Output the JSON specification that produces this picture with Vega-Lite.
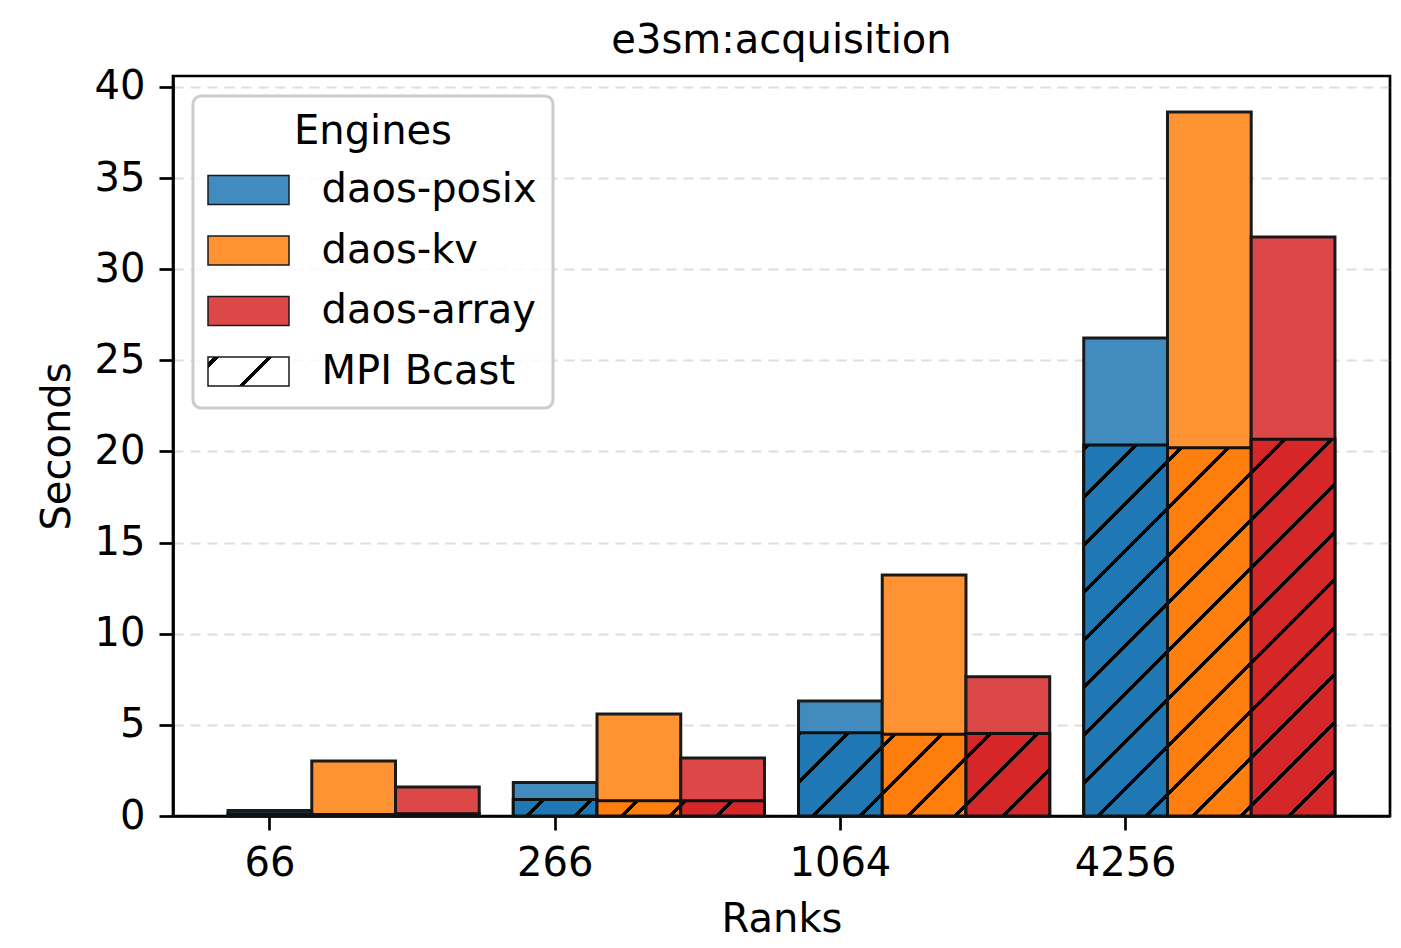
{
  "$schema": "https://vega.github.io/schema/vega-lite/v6.json",
  "width": 1217,
  "height": 740,
  "autosize": {"type": "none"},
  "padding": {"left": 173, "top": 76, "right": 11, "bottom": 132},
  "background": "white",
  "title": {"text": "e3sm:acquisition", "font": "DejaVu Sans", "fontSize": 40, "fontWeight": "normal", "color": "black", "frame": "group", "anchor": "middle", "offset": 6},
  "config": {
    "view": {"stroke": "black", "strokeWidth": 2.7},
    "legend": {"strokeWidth": 3},
    "axis": {"labelFont": "DejaVu Sans", "labelFontSize": 40, "labelColor": "black", "titleFont": "DejaVu Sans", "titleFontSize": 40, "titleFontWeight": "normal", "titleColor": "black", "tickColor": "black", "tickWidth": 2.7, "tickSize": 14, "domainColor": "black", "domainWidth": 2.7, "zindex": 1}
  },
  "data": {"values": [
    {"rank": 66, "engine": "daos-posix", "total": 0.30, "mpi": 0.12},
    {"rank": 66, "engine": "daos-kv", "total": 3.02, "mpi": 0.08},
    {"rank": 66, "engine": "daos-array", "total": 1.59, "mpi": 0.12},
    {"rank": 266, "engine": "daos-posix", "total": 1.84, "mpi": 0.90},
    {"rank": 266, "engine": "daos-kv", "total": 5.60, "mpi": 0.84},
    {"rank": 266, "engine": "daos-array", "total": 3.18, "mpi": 0.84},
    {"rank": 1064, "engine": "daos-posix", "total": 6.31, "mpi": 4.57},
    {"rank": 1064, "engine": "daos-kv", "total": 13.22, "mpi": 4.48},
    {"rank": 1064, "engine": "daos-array", "total": 7.64, "mpi": 4.52},
    {"rank": 4256, "engine": "daos-posix", "total": 26.22, "mpi": 20.35},
    {"rank": 4256, "engine": "daos-kv", "total": 38.62, "mpi": 20.21},
    {"rank": 4256, "engine": "daos-array", "total": 31.77, "mpi": 20.67}
  ]},
  "encoding": {
    "x": {"field": "rank", "type": "ordinal", "title": "Ranks",
      "scale": {"domain": [66, 266, 1064, 4256], "paddingInner": 0.1193, "paddingOuter": 0.193},
      "axis": {"labelAngle": 0, "bandPosition": 0.16667, "labelOffset": -83.7, "grid": false, "labelPadding": 13, "titlePadding": 16}},
    "xOffset": {"field": "engine", "type": "nominal",
      "scale": {"domain": ["daos-posix", "daos-kv", "daos-array"], "paddingInner": 0, "paddingOuter": 0}}
  },
  "layer": [
    {
      "mark": {"type": "bar", "stroke": "#1a1a1a", "strokeWidth": 3},
      "encoding": {
        "y": {"field": "total", "type": "quantitative", "title": "Seconds",
          "scale": {"domain": [0, 40.6], "nice": false, "zero": true},
          "axis": {"values": [0, 5, 10, 15, 20, 25, 30, 35, 40], "grid": true, "gridDash": [10, 7], "gridColor": "#808080", "gridOpacity": 0.27, "gridWidth": 2, "labelPadding": 14, "titlePadding": 17}},
        "color": {"field": "engine", "type": "nominal",
          "scale": {"domain": ["daos-posix", "daos-kv", "daos-array", "MPI Bcast"], "range": ["#418bbf", "#ff9232", "#dc4748",
            {"expr": "({gradient: 'linear', x1: 0, y1: 0, x2: 1.20373, y2: 0.43097, stops: [{offset: 0, color: '#ffffff'}, {offset: 0.05, color: '#ffffff'}, {offset: 0.05, color: '#000000'}, {offset: 0.1, color: '#000000'}, {offset: 0.1, color: '#ffffff'}, {offset: 0.54, color: '#ffffff'}, {offset: 0.54, color: '#000000'}, {offset: 0.59, color: '#000000'}, {offset: 0.59, color: '#ffffff'}, {offset: 1, color: '#ffffff'}]})"}]},
          "legend": {
            "title": "Engines", "orient": "none", "legendX": 20, "legendY": 20, "direction": "vertical", "zindex": 2,
            "symbolType": "M-2.793,-1H2.793V1H-2.793Z", "symbolSize": 841,
            "symbolOffset": 19.5, "labelOffset": 53, "rowPadding": 20.5,
            "labelFont": "DejaVu Sans", "labelFontSize": 40, "labelColor": "black", "labelLimit": 600,
            "titleFont": "DejaVu Sans", "titleFontSize": 40, "titleFontWeight": "normal", "titleColor": "black", "titleAnchor": "middle", "titlePadding": 18, "titleLimit": 600,
            "padding": 16, "fillColor": "rgba(255,255,255,0.8)", "strokeColor": "#cccccc", "cornerRadius": 8,
            "encode": {
              "legend": {"update": {"strokeWidth": {"value": 3}}},
              "symbols": {"update": {"stroke": {"value": "#111111"}, "strokeWidth": {"value": 3}, "opacity": {"value": 1}}}
            }
          }}
      }
    },
    {
      "mark": {"type": "bar", "stroke": "#111111", "strokeWidth": 3},
      "encoding": {
        "y": {"field": "mpi", "type": "quantitative", "title": "Seconds"},
        "fill": {"field": "engine", "type": "nominal", "legend": null,
          "scale": {"domain": ["daos-posix", "daos-kv", "daos-array"], "range": ["#1f77b4", "#ff7f0e", "#d62728"]},
          "condition": [
            {"test": "datum.rank === 266 && datum.engine === 'daos-posix'", "value": {"gradient": "linear", "x1": 0, "y1": 0, "x2": 1.1517, "y2": 0.22557, "stops": [
              {"offset": 0, "color": "#1f77b4"}, {"offset": 0.2758, "color": "#1f77b4"}, {"offset": 0.2758, "color": "#000000"}, {"offset": 0.3258, "color": "#000000"}, {"offset": 0.3258, "color": "#1f77b4"},
              {"offset": 0.7512, "color": "#1f77b4"}, {"offset": 0.7512, "color": "#000000"}, {"offset": 0.8012, "color": "#000000"}, {"offset": 0.8012, "color": "#1f77b4"}, {"offset": 1, "color": "#1f77b4"}]}},
            {"test": "datum.rank === 266 && datum.engine === 'daos-kv'", "value": {"gradient": "linear", "x1": 0, "y1": 0, "x2": 1.1446, "y2": 0.20928, "stops": [
              {"offset": 0, "color": "#ff7f0e"}, {"offset": 0.3837, "color": "#ff7f0e"}, {"offset": 0.3837, "color": "#000000"}, {"offset": 0.4342, "color": "#000000"}, {"offset": 0.4342, "color": "#ff7f0e"},
              {"offset": 0.8643, "color": "#ff7f0e"}, {"offset": 0.8643, "color": "#000000"}, {"offset": 0.9148, "color": "#000000"}, {"offset": 0.9148, "color": "#ff7f0e"}, {"offset": 1, "color": "#ff7f0e"}]}},
            {"test": "datum.rank === 266 && datum.engine === 'daos-array'", "value": {"gradient": "linear", "x1": 0, "y1": 0, "x2": 1.1446, "y2": 0.20928, "stops": [
              {"offset": 0, "color": "#d62728"}, {"offset": 0.01888, "color": "#d62728"}, {"offset": 0.01888, "color": "#000000"}, {"offset": 0.06937, "color": "#000000"}, {"offset": 0.06937, "color": "#d62728"},
              {"offset": 0.4995, "color": "#d62728"}, {"offset": 0.4995, "color": "#000000"}, {"offset": 0.55, "color": "#000000"}, {"offset": 0.55, "color": "#d62728"},
              {"offset": 0.9801, "color": "#d62728"}, {"offset": 0.9801, "color": "#000000"}, {"offset": 1, "color": "#000000"}]}},
            {"test": "datum.rank === 1064 && datum.engine === 'daos-posix'", "value": {"gradient": "linear", "x1": 0, "y1": 0, "x2": 1.00257, "y2": 0.99742, "stops": [
              {"offset": 0, "color": "#000000"}, {"offset": 0.02808, "color": "#000000"}, {"offset": 0.02808, "color": "#1f77b4"},
              {"offset": 0.28312, "color": "#1f77b4"}, {"offset": 0.28312, "color": "#000000"}, {"offset": 0.31306, "color": "#000000"}, {"offset": 0.31306, "color": "#1f77b4"},
              {"offset": 0.5681, "color": "#1f77b4"}, {"offset": 0.5681, "color": "#000000"}, {"offset": 0.59804, "color": "#000000"}, {"offset": 0.59804, "color": "#1f77b4"},
              {"offset": 0.85308, "color": "#1f77b4"}, {"offset": 0.85308, "color": "#000000"}, {"offset": 0.88302, "color": "#000000"}, {"offset": 0.88302, "color": "#1f77b4"}, {"offset": 1, "color": "#1f77b4"}]}},
            {"test": "datum.rank === 1064 && datum.engine === 'daos-kv'", "value": {"gradient": "linear", "x1": 0, "y1": 0, "x2": 1.01236, "y2": 0.98732, "stops": [
              {"offset": 0, "color": "#ff7f0e"}, {"offset": 0.05756, "color": "#ff7f0e"}, {"offset": 0.05756, "color": "#000000"}, {"offset": 0.08779, "color": "#000000"}, {"offset": 0.08779, "color": "#ff7f0e"},
              {"offset": 0.34536, "color": "#ff7f0e"}, {"offset": 0.34536, "color": "#000000"}, {"offset": 0.3756, "color": "#000000"}, {"offset": 0.3756, "color": "#ff7f0e"},
              {"offset": 0.63317, "color": "#ff7f0e"}, {"offset": 0.63317, "color": "#000000"}, {"offset": 0.6634, "color": "#000000"}, {"offset": 0.6634, "color": "#ff7f0e"},
              {"offset": 0.92097, "color": "#ff7f0e"}, {"offset": 0.92097, "color": "#000000"}, {"offset": 0.95121, "color": "#000000"}, {"offset": 0.95121, "color": "#ff7f0e"}, {"offset": 1, "color": "#ff7f0e"}]}},
            {"test": "datum.rank === 1064 && datum.engine === 'daos-array'", "value": {"gradient": "linear", "x1": 0, "y1": 0, "x2": 1.008, "y2": 0.99187, "stops": [
              {"offset": 0, "color": "#d62728"}, {"offset": 0.13075, "color": "#d62728"}, {"offset": 0.13075, "color": "#000000"}, {"offset": 0.16085, "color": "#000000"}, {"offset": 0.16085, "color": "#d62728"},
              {"offset": 0.41729, "color": "#d62728"}, {"offset": 0.41729, "color": "#000000"}, {"offset": 0.44739, "color": "#000000"}, {"offset": 0.44739, "color": "#d62728"},
              {"offset": 0.70383, "color": "#d62728"}, {"offset": 0.70383, "color": "#000000"}, {"offset": 0.73393, "color": "#000000"}, {"offset": 0.73393, "color": "#d62728"},
              {"offset": 0.99037, "color": "#d62728"}, {"offset": 0.99037, "color": "#000000"}, {"offset": 1, "color": "#000000"}]}},
            {"test": "datum.rank === 4256 && datum.engine === 'daos-posix'", "value": {"gradient": "linear", "x1": 0, "y1": 0, "x2": 0.26328, "y2": 1.1663, "stops": [
              {"offset": 0, "color": "#1f77b4"}, {"offset": 0.00457, "color": "#1f77b4"}, {"offset": 0.00457, "color": "#000000"}, {"offset": 0.01557, "color": "#000000"}, {"offset": 0.01557, "color": "#1f77b4"},
              {"offset": 0.10927, "color": "#1f77b4"}, {"offset": 0.10927, "color": "#000000"}, {"offset": 0.12027, "color": "#000000"}, {"offset": 0.12027, "color": "#1f77b4"},
              {"offset": 0.21397, "color": "#1f77b4"}, {"offset": 0.21397, "color": "#000000"}, {"offset": 0.22496, "color": "#000000"}, {"offset": 0.22496, "color": "#1f77b4"},
              {"offset": 0.31866, "color": "#1f77b4"}, {"offset": 0.31866, "color": "#000000"}, {"offset": 0.32966, "color": "#000000"}, {"offset": 0.32966, "color": "#1f77b4"},
              {"offset": 0.42336, "color": "#1f77b4"}, {"offset": 0.42336, "color": "#000000"}, {"offset": 0.43435, "color": "#000000"}, {"offset": 0.43435, "color": "#1f77b4"},
              {"offset": 0.52805, "color": "#1f77b4"}, {"offset": 0.52805, "color": "#000000"}, {"offset": 0.53905, "color": "#000000"}, {"offset": 0.53905, "color": "#1f77b4"},
              {"offset": 0.63275, "color": "#1f77b4"}, {"offset": 0.63275, "color": "#000000"}, {"offset": 0.64375, "color": "#000000"}, {"offset": 0.64375, "color": "#1f77b4"},
              {"offset": 0.73744, "color": "#1f77b4"}, {"offset": 0.73744, "color": "#000000"}, {"offset": 0.74844, "color": "#000000"}, {"offset": 0.74844, "color": "#1f77b4"},
              {"offset": 0.84214, "color": "#1f77b4"}, {"offset": 0.84214, "color": "#000000"}, {"offset": 0.85314, "color": "#000000"}, {"offset": 0.85314, "color": "#1f77b4"},
              {"offset": 0.94684, "color": "#1f77b4"}, {"offset": 0.94684, "color": "#000000"}, {"offset": 0.95784, "color": "#000000"}, {"offset": 0.95784, "color": "#1f77b4"}, {"offset": 1, "color": "#1f77b4"}]}},
            {"test": "datum.rank === 4256 && datum.engine === 'daos-kv'", "value": {"gradient": "linear", "x1": 0, "y1": 0, "x2": 0.26526, "y2": 1.167, "stops": [
              {"offset": 0, "color": "#ff7f0e"}, {"offset": 0.02433, "color": "#ff7f0e"}, {"offset": 0.02433, "color": "#000000"}, {"offset": 0.03539, "color": "#000000"}, {"offset": 0.03539, "color": "#ff7f0e"},
              {"offset": 0.12962, "color": "#ff7f0e"}, {"offset": 0.12962, "color": "#000000"}, {"offset": 0.14068, "color": "#000000"}, {"offset": 0.14068, "color": "#ff7f0e"},
              {"offset": 0.2349, "color": "#ff7f0e"}, {"offset": 0.2349, "color": "#000000"}, {"offset": 0.24596, "color": "#000000"}, {"offset": 0.24596, "color": "#ff7f0e"},
              {"offset": 0.34019, "color": "#ff7f0e"}, {"offset": 0.34019, "color": "#000000"}, {"offset": 0.35125, "color": "#000000"}, {"offset": 0.35125, "color": "#ff7f0e"},
              {"offset": 0.44548, "color": "#ff7f0e"}, {"offset": 0.44548, "color": "#000000"}, {"offset": 0.45654, "color": "#000000"}, {"offset": 0.45654, "color": "#ff7f0e"},
              {"offset": 0.55076, "color": "#ff7f0e"}, {"offset": 0.55076, "color": "#000000"}, {"offset": 0.56182, "color": "#000000"}, {"offset": 0.56182, "color": "#ff7f0e"},
              {"offset": 0.65605, "color": "#ff7f0e"}, {"offset": 0.65605, "color": "#000000"}, {"offset": 0.66711, "color": "#000000"}, {"offset": 0.66711, "color": "#ff7f0e"},
              {"offset": 0.76134, "color": "#ff7f0e"}, {"offset": 0.76134, "color": "#000000"}, {"offset": 0.7724, "color": "#000000"}, {"offset": 0.7724, "color": "#ff7f0e"},
              {"offset": 0.86662, "color": "#ff7f0e"}, {"offset": 0.86662, "color": "#000000"}, {"offset": 0.87768, "color": "#000000"}, {"offset": 0.87768, "color": "#ff7f0e"},
              {"offset": 0.97191, "color": "#ff7f0e"}, {"offset": 0.97191, "color": "#000000"}, {"offset": 0.98297, "color": "#000000"}, {"offset": 0.98297, "color": "#ff7f0e"}, {"offset": 1, "color": "#ff7f0e"}]}},
            {"test": "datum.rank === 4256 && datum.engine === 'daos-array'", "value": {"gradient": "linear", "x1": 0, "y1": 0, "x2": 0.25885, "y2": 1.16472, "stops": [
              {"offset": 0, "color": "#d62728"}, {"offset": 0.067, "color": "#d62728"}, {"offset": 0.067, "color": "#000000"}, {"offset": 0.07785, "color": "#000000"}, {"offset": 0.07785, "color": "#d62728"},
              {"offset": 0.17037, "color": "#d62728"}, {"offset": 0.17037, "color": "#000000"}, {"offset": 0.18122, "color": "#000000"}, {"offset": 0.18122, "color": "#d62728"},
              {"offset": 0.27374, "color": "#d62728"}, {"offset": 0.27374, "color": "#000000"}, {"offset": 0.28459, "color": "#000000"}, {"offset": 0.28459, "color": "#d62728"},
              {"offset": 0.37711, "color": "#d62728"}, {"offset": 0.37711, "color": "#000000"}, {"offset": 0.38797, "color": "#000000"}, {"offset": 0.38797, "color": "#d62728"},
              {"offset": 0.48048, "color": "#d62728"}, {"offset": 0.48048, "color": "#000000"}, {"offset": 0.49134, "color": "#000000"}, {"offset": 0.49134, "color": "#d62728"},
              {"offset": 0.58385, "color": "#d62728"}, {"offset": 0.58385, "color": "#000000"}, {"offset": 0.59471, "color": "#000000"}, {"offset": 0.59471, "color": "#d62728"},
              {"offset": 0.68722, "color": "#d62728"}, {"offset": 0.68722, "color": "#000000"}, {"offset": 0.69808, "color": "#000000"}, {"offset": 0.69808, "color": "#d62728"},
              {"offset": 0.79059, "color": "#d62728"}, {"offset": 0.79059, "color": "#000000"}, {"offset": 0.80145, "color": "#000000"}, {"offset": 0.80145, "color": "#d62728"},
              {"offset": 0.89396, "color": "#d62728"}, {"offset": 0.89396, "color": "#000000"}, {"offset": 0.90482, "color": "#000000"}, {"offset": 0.90482, "color": "#d62728"}, {"offset": 1, "color": "#d62728"}]}}
          ]}
      }
    }
  ]
}
